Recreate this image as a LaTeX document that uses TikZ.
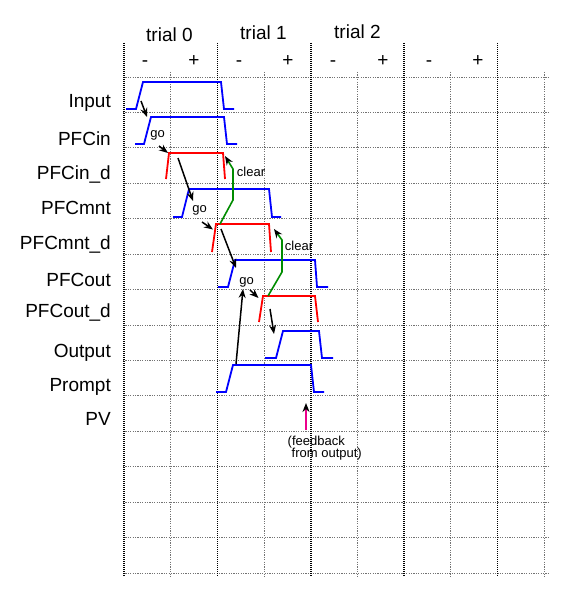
\documentclass[tikz,border=0pt]{standalone}
\usepackage{fontspec}
\setmainfont{Liberation Sans}
\usetikzlibrary{arrows.meta}
\definecolor{clrgreen}{rgb}{0,0.55,0}
\begin{document}
\begin{tikzpicture}[x=1pt,y=-1pt,
  darkgrid/.style={black,line width=1.5pt,dash pattern=on 1pt off 1pt},
  lightgrid/.style={black!55,line width=0.9pt,dash pattern=on 1.2pt off 1.2pt},
  sig/.style={blue,line width=1.8pt},
  dsig/.style={red,line width=1.8pt},
  arr/.style={black,line width=1.5pt,-{Stealth[length=9pt,width=7pt]}},
  clr/.style={clrgreen,line width=1.6pt,-{Stealth[length=9pt,width=7pt,black]}},
  fb/.style={magenta,line width=1.8pt,-{Stealth[length=9pt,width=7pt,black]}},
  lbl/.style={anchor=base east,inner sep=0pt,font=\fontsize{19}{23}\selectfont},
  hdr/.style={anchor=base west,inner sep=0pt,font=\fontsize{19}{23}\selectfont},
  pm/.style={anchor=base,inner sep=0pt,font=\fontsize{19}{23}\selectfont},
  small/.style={anchor=base,inner sep=0pt,font=\fontsize{13}{15}\selectfont},
  smallw/.style={anchor=base west,inner sep=0pt,font=\fontsize{13}{15}\selectfont}
]
\useasboundingbox (0,0) rectangle (565,591);

% grid
\foreach \i in {0,...,14} \draw[lightgrid] (123,77+35.43*\i) -- (548,77+35.43*\i);
\foreach \i in {1,3,5,7,9} \draw[lightgrid] (124+46.7*\i,72) -- (124+46.7*\i,577);
\foreach \i in {0,2,4,6,8} \draw[darkgrid] (124+46.7*\i,43) -- (124+46.7*\i,577);

% header
\node[hdr] (t0) at (146,41.5) {trial 0};
\node[hdr] (t1) at (240,40) {trial 1};
\node[hdr] (t2) at (334,38.5) {trial 2};
\node[pm] (m0) at (145,67) {-};
\node[pm] (p0) at (194,67) {+};
\node[pm] (m1) at (239,67) {-};
\node[pm] (p1) at (288,67) {+};
\node[pm] (m2) at (333,67) {-};
\node[pm] (p2) at (383,67) {+};
\node[pm] (m3) at (429,67) {-};
\node[pm] (p3) at (478,67) {+};

% row labels
\node[lbl] (lInput) at (111,107) {Input};
\node[lbl] (lPFCin) at (111,145) {PFCin};
\node[lbl] (lPFCind) at (111,179) {PFCin\_d};
\node[lbl] (lPFCmnt) at (111,214) {PFCmnt};
\node[lbl] (lPFCmntd) at (111,249) {PFCmnt\_d};
\node[lbl] (lPFCout) at (111,286) {PFCout};
\node[lbl] (lPFCoutd) at (111,317) {PFCout\_d};
\node[lbl] (lOutput) at (111,357) {Output};
\node[lbl] (lPrompt) at (111,391) {Prompt};
\node[lbl] (lPV) at (111,425) {PV};

% waveforms
\draw[sig] (126,109) -- (136,109) -- (143,82) -- (221,82) -- (224,109) -- (234,109);
\draw[sig] (135,144) -- (144,144) -- (151,117) -- (224,117) -- (227,144) -- (237,144);
\draw[dsig] (166,179) -- (169,153) -- (223,153) -- (225,179);
\draw[sig] (173,217) -- (182,217) -- (189,189) -- (269,189) -- (272,217) -- (281,217);
\draw[dsig] (212,252) -- (216,224) -- (269,224) -- (271,252);
\draw[sig] (218,287) -- (228,287) -- (235,260) -- (315,260) -- (317,287) -- (328,287);
\draw[dsig] (259,322) -- (263,296) -- (315,296) -- (318,322);
\draw[sig] (265,358) -- (276,358) -- (283,331) -- (319,331) -- (322,358) -- (333,358);
\draw[sig] (216,392) -- (226,392) -- (233,365) -- (311,365) -- (314,392) -- (324,392);

% small labels
\node[small] (go1) at (157.5,137) {go};
\node[small] (go2) at (199.7,212.5) {go};
\node[small] (go3) at (246.7,284) {go};
\node[small] (clear1) at (251,176) {clear};
\node[small] (clear2) at (299,250) {clear};
\node[smallw] (fb1) at (287.5,445) {(feedback};
\node[smallw] (fb2) at (291.5,457.5) {from output)};

% connector end points
\coordinate (a1s) at (141,101);  \coordinate (a1e) at (147,117);
\coordinate (a2s) at (159,146);  \coordinate (a2e) at (168,153);
\coordinate (a3s) at (178,158);  \coordinate (a3e) at (193,201);
\coordinate (a4s) at (202,222);  \coordinate (a4e) at (213,229.5);
\coordinate (a5s) at (221,229);  \coordinate (a5e) at (236,268);
\coordinate (a6s) at (250,290);  \coordinate (a6e) at (258.5,298);
\coordinate (a7s) at (236,364);  \coordinate (a7e) at (243,289);
\coordinate (a8s) at (270,309);  \coordinate (a8e) at (274,334);
\coordinate (g1s) at (220,224);  \coordinate (g1a) at (233,200);
\coordinate (g1b) at (233,169);  \coordinate (g1e) at (225,156);
\coordinate (g2s) at (268,296);  \coordinate (g2a) at (282,272);
\coordinate (g2b) at (282,240);  \coordinate (g2e) at (274,229);
\coordinate (pvs) at (306,430);  \coordinate (pve) at (306,403);

% connectors
\draw[arr] (a1s) -- (a1e);
\draw[arr] (a2s) -- (a2e);
\draw[arr] (a3s) -- (a3e);
\draw[arr] (a4s) -- (a4e);
\draw[arr] (a5s) -- (a5e);
\draw[arr] (a6s) -- (a6e);
\draw[arr] (a7s) -- (a7e);
\draw[arr] (a8s) -- (a8e);
\draw[clr] (g1s) -- (g1a) -- (g1b) -- (g1e);
\draw[clr] (g2s) -- (g2a) -- (g2b) -- (g2e);
\draw[fb] (pvs) -- (pve);
\end{tikzpicture}
\end{document}
